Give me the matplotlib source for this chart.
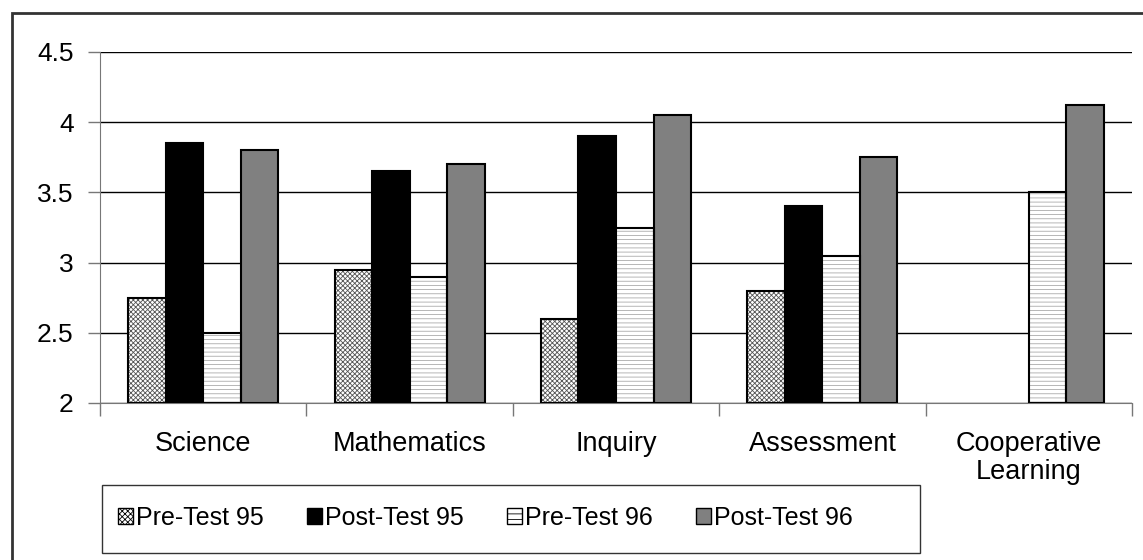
import numpy as np
import matplotlib.pyplot as plt
from matplotlib.patches import Rectangle

plt.rcParams['font.family'] = ['Liberation Sans', 'DejaVu Sans']
plt.rcParams['hatch.linewidth'] = 0.6

categories = ['Science', 'Mathematics', 'Inquiry', 'Assessment', 'Cooperative\nLearning']
pre95 = [2.75, 2.95, 2.6, 2.8, np.nan]
post95 = [3.85, 3.65, 3.9, 3.4, np.nan]
pre96 = [2.5, 2.9, 3.25, 3.05, 3.5]
post96 = [3.8, 3.7, 4.05, 3.75, 4.12]
series = ['Pre-Test 95', 'Post-Test 95', 'Pre-Test 96', 'Post-Test 96']

W, H = 1143, 560
fig = plt.figure(figsize=(W / 100, H / 100), dpi=100)
ax = fig.add_axes([100 / W, 1 - 403 / H, 1032 / W, 351 / H])

x = np.arange(len(categories))
w = 1 / 5.5
styles = [
    dict(color='white', hatch='xxxxxxx', hc='#555555'),
    dict(color='black', hatch=None, hc=None),
    dict(color='white', hatch='----', hc='#aaaaaa'),
    dict(color='#808080', hatch=None, hc=None),
]
handles = []
for i, (vals, st) in enumerate(zip([pre95, post95, pre96, post96], styles)):
    pos = x + (i - 1.5) * w
    heights = np.array(vals) - 2
    if st['hatch']:
        ax.bar(pos, heights, w, bottom=2, color=st['color'], edgecolor=st['hc'],
               hatch=st['hatch'], linewidth=0, zorder=3)
        ax.bar(pos, heights, w, bottom=2, fill=False, edgecolor='black', linewidth=1.5, zorder=4)
    else:
        ax.bar(pos, heights, w, bottom=2, color=st['color'], edgecolor='black',
               linewidth=1.5, zorder=3)
    h = Rectangle((0, 0), 1, 1, facecolor=st['color'], edgecolor='black', linewidth=1,
                  hatch=st['hatch'])
    if st['hatch']:
        h.set_hatch('xxxxxx' if i == 0 else '---')
    handles.append(h)

ax.set_xlim(-0.5, len(categories) - 0.5)
ax.set_ylim(2, 4.5)
ax.set_yticks([2, 2.5, 3, 3.5, 4, 4.5])
ax.set_yticklabels(['2', '2.5', '3', '3.5', '4', '4.5'], fontsize=19)
ax.yaxis.grid(True, color='black', linewidth=1)
ax.set_axisbelow(True)
ax.set_xticks(np.arange(len(categories) + 1) - 0.5, minor=False)
ax.set_xticklabels([])
ax.set_xticks(x, minor=True)
ax.set_xticklabels(categories, minor=True, fontsize=19.5, linespacing=1.1)
ax.tick_params(axis='x', which='minor', length=0, pad=20)
ax.tick_params(axis='x', which='major', length=9, width=1, color='#777777')
ax.tick_params(axis='y', length=9, width=1, color='#777777', pad=10)
for s in ['top', 'right']:
    ax.spines[s].set_visible(False)
ax.spines['left'].set_color('#777777')
ax.spines['bottom'].set_color('#777777')

leg = fig.legend(handles, series, loc='center left', ncol=4,
                 bbox_to_anchor=(105 / W, 1 - 518 / H),
                 fontsize=18, handlelength=0.6, handleheight=0.6, handletextpad=0.15,
                 columnspacing=1.7, borderpad=0, frameon=False)

fig.add_artist(Rectangle((102 / W, 1 - 553 / H), 818 / W, 68 / H, transform=fig.transFigure,
                         fill=False, edgecolor='#333333', linewidth=1))
fig.add_artist(Rectangle((12 / W, -0.1), 1.2, 1.1 - 13 / H, transform=fig.transFigure,
                         fill=False, edgecolor='#333333', linewidth=2))

fig.savefig('out.png', dpi=100)
